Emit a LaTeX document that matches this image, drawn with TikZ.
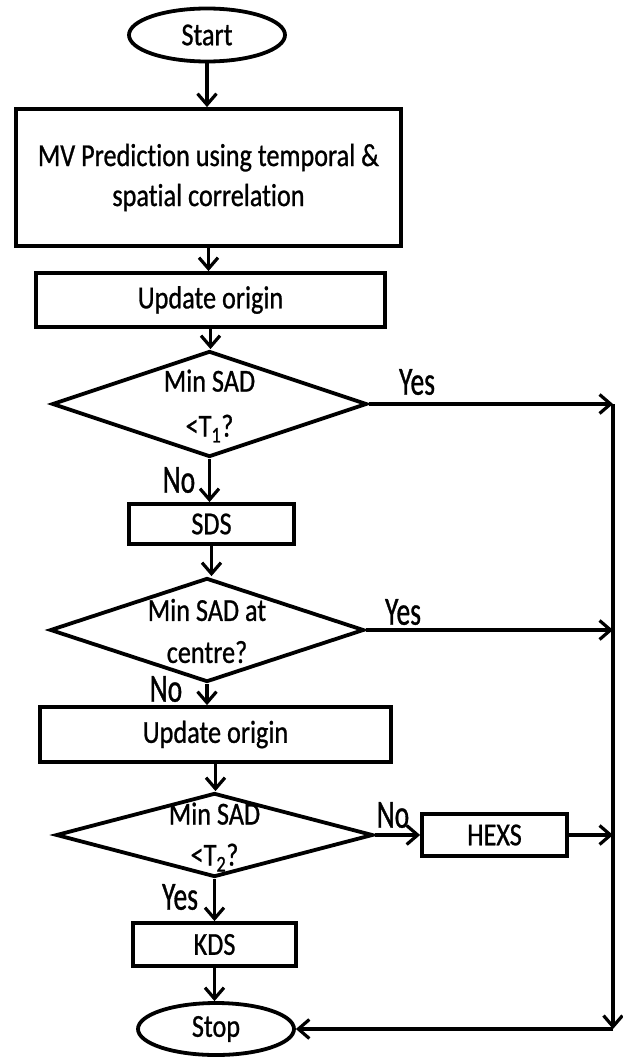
\documentclass[tikz,border=0pt]{standalone}
\usepackage{fontspec}
\setmainfont{Carlito}[FakeStretch=0.82,FakeBold=0.8,Ligatures=NoCommon]
\newfontfamily\labfamily{Carlito}[FakeStretch=0.69,FakeBold=0.8,Ligatures=NoCommon]
\usetikzlibrary{shapes.geometric,arrows.meta}
\newcommand\flowfont{\fontsize{32}{40}\selectfont}
\newcommand\labfont{\labfamily\fontsize{40}{48}\selectfont}
\begin{document}
\begin{tikzpicture}[x=1pt,y=-1pt,
  line width=3.8pt,
  box/.style={draw, rectangle, inner sep=0pt, align=center, font=\flowfont},
  term/.style={draw, ellipse, inner sep=0pt, font=\flowfont},
  dia/.style={draw, diamond, inner sep=0pt},
  dtext/.style={align=center, font=\flowfont, inner sep=0pt},
  lab/.style={font=\labfont, inner sep=0pt},
  arr/.style={line width=3.4pt, -{Straight Barb[length=11pt,width=19pt,line width=3.2pt]}}]
\fill[white] (0,0) rectangle (622,1057);
\useasboundingbox (0,0) rectangle (622,1057);

\node[term, minimum width=156pt, minimum height=53pt] (start) at (207,35) {Start};
\node[box, minimum width=385pt, minimum height=137pt] (mv) at (208.5,177.5)
  {MV Prediction using temporal \&\\[0pt]spatial correlation};
\node[box, minimum width=349pt, minimum height=54pt] (up1) at (210.5,300) {Update origin};
\node[dia, minimum width=315pt, minimum height=106pt] (d1) at (209.5,404) {};
\node[dtext] (d1t) at (209.5,406) {Min SAD\\[5pt]<T\textsubscript{1}?};
\node[box, minimum width=165pt, minimum height=40pt] (sds) at (211.5,524) {SDS};
\node[dia, minimum width=314pt, minimum height=104pt] (d2) at (207,630) {};
\node[dtext] (d2t) at (207,631) {Min SAD at\\[2pt]centre?};
\node[box, minimum width=351pt, minimum height=55pt] (up2) at (215.5,734.5) {Update origin};
\node[dia, minimum width=317pt, minimum height=84pt] (d3) at (214.5,835) {};
\node[dtext] (d3t) at (214.5,837) {Min SAD\\[1pt]<T\textsubscript{2}?};
\node[box, minimum width=145pt, minimum height=42pt] (hexs) at (494.5,835) {HEXS};
\node[box, minimum width=163pt, minimum height=43pt] (kds) at (214.5,944.5) {KDS};
\node[term, minimum width=156pt, minimum height=52pt] (stop) at (216,1029) {Stop};

\coordinate (rail) at (613,0);
\coordinate (corner) at (rail |- stop.east);

\draw[arr] (start.south) -- (start.south |- mv.north);
\draw[arr] (mv.south) -- (mv.south |- up1.north);
\draw[arr] (up1.south) -- (up1.south |- d1.north);
\draw[arr] (d1.south) -- (d1.south |- sds.north);
\draw[arr] (sds.south) -- (sds.south |- d2.north);
\draw[arr] (d2.south) -- (d2.south |- up2.north);
\draw[arr] (up2.south) -- (up2.south |- d3.north);
\draw[arr] (d3.south) -- (d3.south |- kds.north);
\draw[arr] (kds.south) -- (kds.south |- stop.north);
\draw[arr] (d3.east) -- (hexs.west);

\draw[arr] (d1.east) -- (d1.east -| rail);
\draw[arr] (d2.east) -- (d2.east -| rail);
\draw[arr] (hexs.east) -- (hexs.east -| rail);
\draw[arr] (d1.east -| rail) -- (corner);
\draw[arr] (corner) -- (stop.east);

\node[lab] (yes1) at (417,382) {Yes};
\node[lab] (no1) at (179,480) {No};
\node[lab] (yes2) at (403,612) {Yes};
\node[lab] (no2) at (166,689) {No};
\node[lab] (no3) at (393,815) {No};
\node[lab] (yes3) at (180,897) {Yes};
\end{tikzpicture}
\end{document}
